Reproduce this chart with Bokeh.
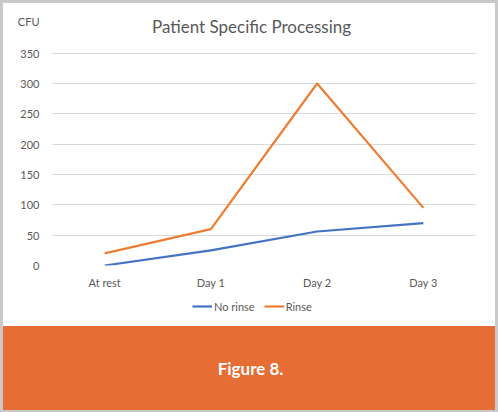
from bokeh.plotting import figure
from bokeh.layouts import column
from bokeh.models import Label, Legend, LegendItem, Range1d, FactorRange, FixedTicker
from bokeh.embed import file_html
from bokeh.resources import INLINE

categories = ["At rest", "Day 1", "Day 2", "Day 3"]
no_rinse = [0, 25, 56, 70]
rinse = [20, 60, 300, 95]
series_names = ["No rinse", "Rinse"]
series_colors = ["#4472C4", "#ED7D31"]
y_ticks = [0, 50, 100, 150, 200, 250, 300, 350]
y_label = "CFU"
y_label_pos = 402          # the unit label sits at the top of the tick column
title_text = "Patient Specific Processing"
caption = "Figure 8."

FONT = "Lato"
GRAY_TXT = "#595959"
ORANGE_BAND = "#E66D33"

# frame geometry (pixels)
H = 288
TOP, BOTTOM = 7, 24
PX_PER_350 = 214.0
frame_h = H - TOP - BOTTOM
y_end = frame_h * 350.0 / PX_PER_350

p = figure(width=492, height=H, x_range=FactorRange(*categories), y_range=Range1d(0, y_end),
           toolbar_location=None, output_backend="svg",
           min_border_left=48, min_border_right=19, min_border_top=TOP, min_border_bottom=BOTTOM,
           margin=(3, 3, 0, 3), styles={"background-color": "white"})
p.background_fill_color = "white"
p.border_fill_color = "white"
p.outline_line_color = None

for vals, col in zip([no_rinse, rinse], series_colors):
    p.line(categories, vals, line_color=col, line_width=2.2)

p.yaxis.ticker = FixedTicker(ticks=y_ticks + [y_label_pos])
p.yaxis.major_label_overrides = {y_label_pos: y_label}
p.yaxis.axis_line_color = None
p.yaxis.major_tick_line_color = None
p.yaxis.minor_tick_line_color = None
p.yaxis.major_tick_out = 0
p.yaxis.major_label_text_font = FONT
p.yaxis.major_label_text_font_size = "11px"
p.yaxis.major_label_text_color = GRAY_TXT
p.yaxis.major_label_standoff = 12

p.xaxis.axis_line_color = None
p.xaxis.major_tick_line_color = None
p.xaxis.major_tick_out = 0
p.xaxis.major_label_text_font = FONT
p.xaxis.major_label_text_font_size = "11px"
p.xaxis.major_label_text_color = GRAY_TXT
p.xaxis.major_label_standoff = 10

p.xgrid.grid_line_color = None
p.ygrid.ticker = FixedTicker(ticks=y_ticks)
p.ygrid.grid_line_color = "#D9D9D9"
p.ygrid.grid_line_width = 1

# title: screen pixels relative to the frame's bottom-left corner
p.add_layout(Label(x=200, y=239, x_units="screen", y_units="screen", text=title_text,
                   text_font=FONT, text_font_size="17px", text_color=GRAY_TXT,
                   text_align="center", text_baseline="middle"))

# legend strip (series drawn again, outside its visible range, only to feed the legend)
leg = figure(width=492, height=35, x_range=FactorRange(*categories), y_range=Range1d(-2, -1),
             toolbar_location=None, output_backend="svg", min_border=0,
             margin=(0, 3, 0, 3), styles={"background-color": "white"})
leg.axis.visible = False
leg.grid.grid_line_color = None
leg.outline_line_color = None
leg.background_fill_color = "white"
leg.border_fill_color = "white"
items = []
for name, vals, col in zip(series_names, [no_rinse, rinse], series_colors):
    r = leg.line(categories, vals, line_color=col, line_width=2.2)
    items.append(LegendItem(label=name, renderers=[r]))
legend = Legend(items=items, orientation="horizontal", location=(141, 13),
                label_text_font=FONT, label_text_font_size="11px", label_text_color=GRAY_TXT,
                glyph_width=20, glyph_height=14, label_height=14, label_standoff=2,
                spacing=9, padding=0, margin=0, border_line_color=None,
                background_fill_alpha=0)
leg.add_layout(legend, "center")

band = figure(width=492, height=84, x_range=Range1d(0, 1), y_range=Range1d(0, 1),
              toolbar_location=None, output_backend="svg", min_border=0,
              margin=(0, 3, 3, 3), styles={"background-color": ORANGE_BAND})
band.axis.visible = False
band.grid.grid_line_color = None
band.outline_line_color = None
band.background_fill_color = ORANGE_BAND
band.border_fill_color = ORANGE_BAND
band.add_layout(Label(x=199, y=42, x_units="screen", y_units="screen", text=caption,
                      text_font=FONT, text_font_style="bold",
                      text_font_size="17px", text_color="white",
                      text_align="center", text_baseline="middle"))

layout = column(p, leg, band, spacing=0, styles={"background-color": "#C9C9C9"})

open("out.html", "w").write(file_html(layout, INLINE))
